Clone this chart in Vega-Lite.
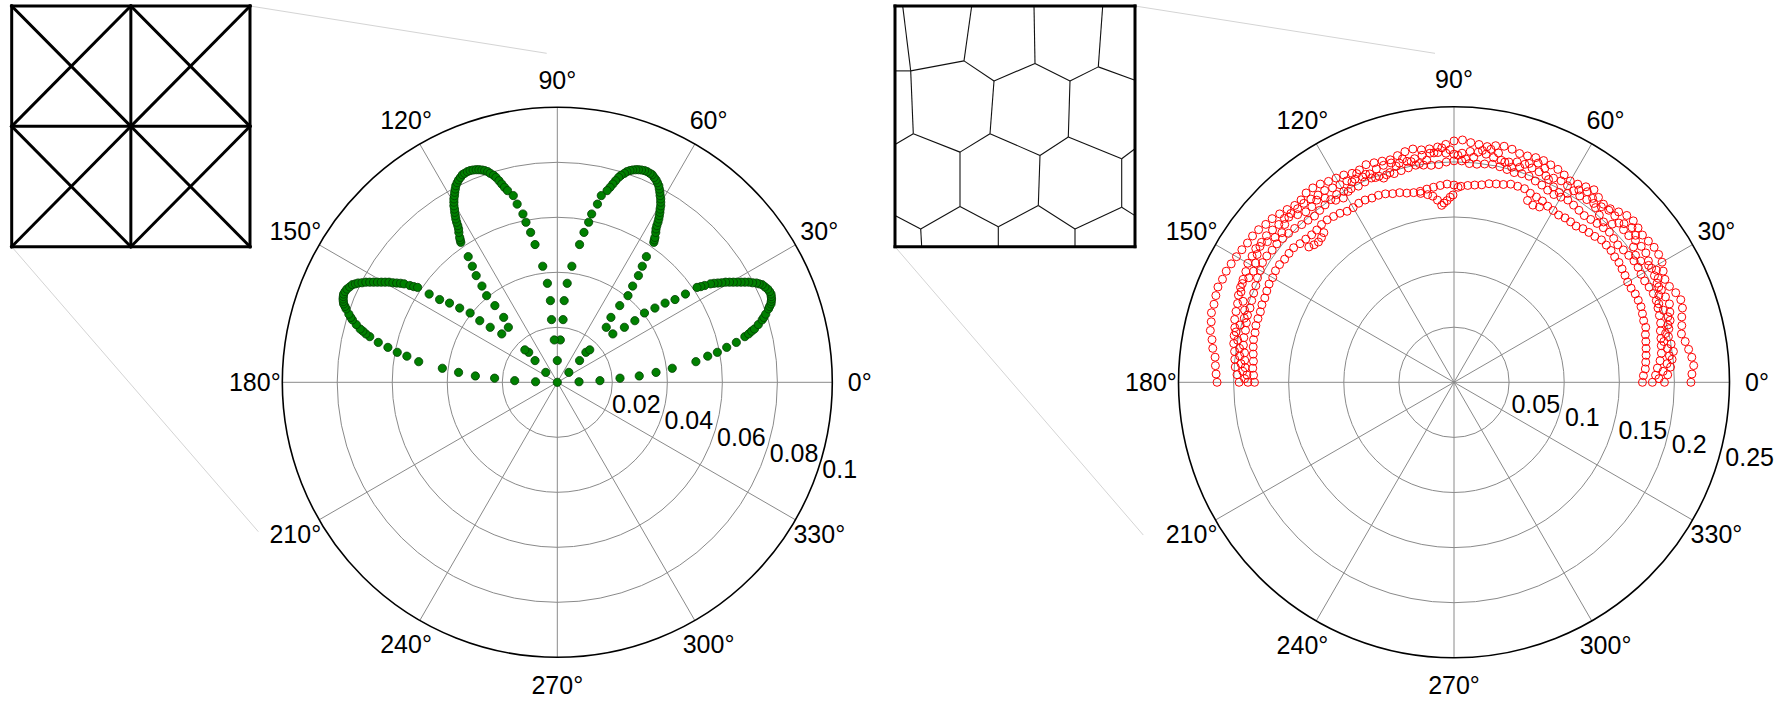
{
"$schema": "https://vega.github.io/schema/vega-lite/v6.json",
"width": 1784, "height": 701, "padding": 0, "autosize": {"type": "none"},
"background": "#ffffff",
"config": {"view": {"stroke": null}},
"datasets": {
"angles": [{"a":0,"t":"0°"},{"a":30,"t":"30°"},{"a":60,"t":"60°"},{"a":90,"t":"90°"},{"a":120,"t":"120°"},{"a":150,"t":"150°"},{"a":180,"t":"180°"},{"a":210,"t":"210°"},{"a":240,"t":"240°"},{"a":270,"t":"270°"},{"a":300,"t":"300°"},{"a":330,"t":"330°"}],
"ringsL": [{"v":0.02,"t":"0.02"},{"v":0.04,"t":"0.04"},{"v":0.06,"t":"0.06"},{"v":0.08,"t":"0.08"},{"v":0.1,"t":"0.1"}],
"ringsR": [{"v":0.05,"t":"0.05"},{"v":0.1,"t":"0.1"},{"v":0.15,"t":"0.15"},{"v":0.2,"t":"0.2"},{"v":0.25,"t":"0.25"}],
"spokesL": [{"x":-0.1,"y":0,"x2":0.1,"y2":0},{"x":-0.0866,"y":-0.05,"x2":0.0866,"y2":0.05},{"x":-0.05,"y":-0.0866,"x2":0.05,"y2":0.0866},{"x":0,"y":-0.1,"x2":0,"y2":0.1},{"x":0.05,"y":-0.0866,"x2":-0.05,"y2":0.0866},{"x":0.0866,"y":-0.05,"x2":-0.0866,"y2":0.05}],
"spokesR": [{"x":-0.25,"y":0,"x2":0.25,"y2":0},{"x":-0.2165,"y":-0.125,"x2":0.2165,"y2":0.125},{"x":-0.125,"y":-0.2165,"x2":0.125,"y2":0.2165},{"x":0,"y":-0.25,"x2":0,"y2":0.25},{"x":0.125,"y":-0.2165,"x2":-0.125,"y2":0.2165},{"x":0.2165,"y":-0.125,"x2":-0.2165,"y2":0.125}],
"meshL": [{"x":0,"y":0,"x2":0,"y2":2},{"x":1,"y":0,"x2":1,"y2":2},{"x":2,"y":0,"x2":2,"y2":2},{"x":0,"y":0,"x2":2,"y2":0},{"x":0,"y":1,"x2":2,"y2":1},{"x":0,"y":2,"x2":2,"y2":2},{"x":0,"y":0,"x2":1,"y2":1},{"x":0,"y":1,"x2":1,"y2":0},{"x":1,"y":0,"x2":2,"y2":1},{"x":1,"y":1,"x2":2,"y2":0},{"x":0,"y":1,"x2":1,"y2":2},{"x":0,"y":2,"x2":1,"y2":1},{"x":1,"y":1,"x2":2,"y2":2},{"x":1,"y":2,"x2":2,"y2":1}],
"linksL": [{"x":2,"y":2,"x2":4.49,"y2":1.607},{"x":0,"y":0,"x2":2.07,"y2":-2.368}],
"meshR": [{"x":7.7,"y":0,"x2":15.7,"y2":64.7},{"x":0,"y":64.7,"x2":15.7,"y2":64.7},{"x":15.7,"y":64.7,"x2":69,"y2":54.7},{"x":76.7,"y":0,"x2":69,"y2":54.7},{"x":69,"y":54.7,"x2":99,"y2":74.7},{"x":139,"y":0,"x2":140,"y2":57.3},{"x":99,"y":74.7,"x2":140,"y2":57.3},{"x":140,"y":57.3,"x2":175,"y2":74.7},{"x":207.7,"y":0,"x2":203.3,"y2":60.7},{"x":175,"y":74.7,"x2":203.3,"y2":60.7},{"x":203.3,"y":60.7,"x2":240,"y2":74},{"x":99,"y":74.7,"x2":95,"y2":127.3},{"x":175,"y":74.7,"x2":173.3,"y2":130.7},{"x":15.7,"y":64.7,"x2":18.3,"y2":127.3},{"x":0,"y":138,"x2":18.3,"y2":127.3},{"x":18.3,"y":127.3,"x2":65,"y2":145.7},{"x":95,"y":127.3,"x2":65,"y2":145.7},{"x":95,"y":127.3,"x2":145,"y2":149},{"x":173.3,"y":130.7,"x2":145,"y2":149},{"x":173.3,"y":130.7,"x2":226.7,"y2":152.3},{"x":226.7,"y":152.3,"x2":240,"y2":142.3},{"x":65,"y":145.7,"x2":65,"y2":200},{"x":145,"y":149,"x2":143.3,"y2":199},{"x":226.7,"y":152.3,"x2":226.7,"y2":200.7},{"x":0,"y":209,"x2":25.7,"y2":222.3},{"x":65,"y":200,"x2":25.7,"y2":222.3},{"x":65,"y":200,"x2":103.3,"y2":220},{"x":143.3,"y":199,"x2":103.3,"y2":220},{"x":143.3,"y":199,"x2":180,"y2":222.3},{"x":226.7,"y":200.7,"x2":180,"y2":222.3},{"x":226.7,"y":200.7,"x2":240,"y2":209},{"x":25.7,"y":222.3,"x2":26.7,"y2":240},{"x":103.3,"y":220,"x2":103.3,"y2":240},{"x":180,"y":222.3,"x2":180,"y2":240}],
"frameR": [{"x":0,"y":0,"x2":240,"y2":0},{"x":240,"y":0,"x2":240,"y2":240},{"x":0,"y":240,"x2":240,"y2":240},{"x":0,"y":0,"x2":0,"y2":240}],
"linksR": [{"x":240,"y":0,"x2":540,"y2":47.2},{"x":0,"y":240,"x2":248.3,"y2":527.5}],
"green": [
{"x":0,"y":0},{"x":0,"y":0.0079},
{"x":0.0042,"y":0.0036},{"x":0.0081,"y":0.0079},{"x":0.0104,"y":0.0109},{"x":0.0118,"y":0.0118},{"x":0.0011,"y":0.0154},
{"x":0.0079,"y":0.0002},{"x":0.0155,"y":0.0006},{"x":0.0228,"y":0.0015},{"x":0.0298,"y":0.0023},{"x":0.0359,"y":0.0036},{"x":0.0418,"y":0.0051},
{"x":0.0504,"y":0.0075},{"x":0.0547,"y":0.0095},{"x":0.0582,"y":0.0109},{"x":0.0616,"y":0.0127},{"x":0.0651,"y":0.0145},{"x":0.0682,"y":0.0166},{"x":0.0696,"y":0.0176},{"x":0.0707,"y":0.0186},{"x":0.0717,"y":0.0194},{"x":0.0731,"y":0.021},{"x":0.0745,"y":0.0227},{"x":0.0751,"y":0.0236},{"x":0.0758,"y":0.0248},{"x":0.0768,"y":0.0267},{"x":0.0772,"y":0.0276},{"x":0.0777,"y":0.0285},{"x":0.0778,"y":0.0294},{"x":0.0779,"y":0.0303},{"x":0.0778,"y":0.0312},{"x":0.0777,"y":0.0321},{"x":0.0772,"y":0.033},{"x":0.0765,"y":0.0339},{"x":0.0755,"y":0.0347},{"x":0.0745,"y":0.0355},{"x":0.0734,"y":0.0358},{"x":0.0724,"y":0.0361},{"x":0.071,"y":0.0362},{"x":0.0696,"y":0.0364},{"x":0.0682,"y":0.0364},{"x":0.0668,"y":0.0364},{"x":0.0654,"y":0.0364},{"x":0.064,"y":0.0364},{"x":0.0626,"y":0.0364},{"x":0.0612,"y":0.0364},{"x":0.0598,"y":0.0362},{"x":0.0584,"y":0.0361},{"x":0.057,"y":0.036},{"x":0.0557,"y":0.0358},{"x":0.0536,"y":0.0352},{"x":0.0522,"y":0.0348},{"x":0.0508,"y":0.0345},
{"x":0.0466,"y":0.0321},{"x":0.0428,"y":0.0301},{"x":0.0392,"y":0.0288},{"x":0.0355,"y":0.027},{"x":0.0317,"y":0.0252},{"x":0.0282,"y":0.0224},{"x":0.0244,"y":0.02},{"x":0.0202,"y":0.0176},
{"x":0.0178,"y":0.02},{"x":0.0195,"y":0.0236},{"x":0.0227,"y":0.0279},{"x":0.0257,"y":0.0315},{"x":0.0274,"y":0.035},{"x":0.0295,"y":0.0388},{"x":0.0309,"y":0.0422},{"x":0.0324,"y":0.0457},
{"x":0.0351,"y":0.0509},{"x":0.0353,"y":0.0518},{"x":0.0355,"y":0.0527},{"x":0.0358,"y":0.0545},{"x":0.0359,"y":0.0558},{"x":0.0362,"y":0.057},{"x":0.0366,"y":0.0582},{"x":0.0369,"y":0.0594},{"x":0.0371,"y":0.0606},{"x":0.0373,"y":0.0618},{"x":0.0374,"y":0.063},{"x":0.0376,"y":0.0642},{"x":0.0376,"y":0.0655},{"x":0.0376,"y":0.0667},{"x":0.0374,"y":0.0679},{"x":0.0373,"y":0.0691},{"x":0.0371,"y":0.0703},{"x":0.0369,"y":0.0715},{"x":0.0364,"y":0.0726},{"x":0.0359,"y":0.0736},{"x":0.0352,"y":0.0745},{"x":0.0345,"y":0.0755},{"x":0.0337,"y":0.076},{"x":0.0327,"y":0.0766},{"x":0.0317,"y":0.077},{"x":0.0306,"y":0.0772},{"x":0.0295,"y":0.0773},{"x":0.0285,"y":0.0773},{"x":0.0274,"y":0.0772},{"x":0.0264,"y":0.077},{"x":0.0253,"y":0.0766},{"x":0.0244,"y":0.076},{"x":0.0232,"y":0.0753},{"x":0.0223,"y":0.0745},{"x":0.0212,"y":0.0733},{"x":0.0202,"y":0.0721},{"x":0.0192,"y":0.0709},{"x":0.0181,"y":0.0697},{"x":0.016,"y":0.0679},
{"x":0.0146,"y":0.0648},{"x":0.0125,"y":0.0612},{"x":0.0114,"y":0.0582},{"x":0.0097,"y":0.0545},{"x":0.0081,"y":0.0501},{"x":0.0053,"y":0.0422},{"x":0.0036,"y":0.036},{"x":0.0025,"y":0.0297},{"x":0.0021,"y":0.0228},
{"x":-0.0042,"y":0.0036},{"x":-0.0081,"y":0.0079},{"x":-0.0104,"y":0.0109},{"x":-0.0118,"y":0.0118},{"x":-0.0011,"y":0.0154},
{"x":-0.0079,"y":0.0002},{"x":-0.0155,"y":0.0006},{"x":-0.0228,"y":0.0015},{"x":-0.0298,"y":0.0023},{"x":-0.0359,"y":0.0036},{"x":-0.0418,"y":0.0051},
{"x":-0.0504,"y":0.0075},{"x":-0.0547,"y":0.0095},{"x":-0.0582,"y":0.0109},{"x":-0.0616,"y":0.0127},{"x":-0.0651,"y":0.0145},{"x":-0.0682,"y":0.0166},{"x":-0.0696,"y":0.0176},{"x":-0.0707,"y":0.0186},{"x":-0.0717,"y":0.0194},{"x":-0.0731,"y":0.021},{"x":-0.0745,"y":0.0227},{"x":-0.0751,"y":0.0236},{"x":-0.0758,"y":0.0248},{"x":-0.0768,"y":0.0267},{"x":-0.0772,"y":0.0276},{"x":-0.0777,"y":0.0285},{"x":-0.0778,"y":0.0294},{"x":-0.0779,"y":0.0303},{"x":-0.0778,"y":0.0312},{"x":-0.0777,"y":0.0321},{"x":-0.0772,"y":0.033},{"x":-0.0765,"y":0.0339},{"x":-0.0755,"y":0.0347},{"x":-0.0745,"y":0.0355},{"x":-0.0734,"y":0.0358},{"x":-0.0724,"y":0.0361},{"x":-0.071,"y":0.0362},{"x":-0.0696,"y":0.0364},{"x":-0.0682,"y":0.0364},{"x":-0.0668,"y":0.0364},{"x":-0.0654,"y":0.0364},{"x":-0.064,"y":0.0364},{"x":-0.0626,"y":0.0364},{"x":-0.0612,"y":0.0364},{"x":-0.0598,"y":0.0362},{"x":-0.0584,"y":0.0361},{"x":-0.057,"y":0.036},{"x":-0.0557,"y":0.0358},{"x":-0.0536,"y":0.0352},{"x":-0.0522,"y":0.0348},{"x":-0.0508,"y":0.0345},
{"x":-0.0466,"y":0.0321},{"x":-0.0428,"y":0.0301},{"x":-0.0392,"y":0.0288},{"x":-0.0355,"y":0.027},{"x":-0.0317,"y":0.0252},{"x":-0.0282,"y":0.0224},{"x":-0.0244,"y":0.02},{"x":-0.0202,"y":0.0176},
{"x":-0.0178,"y":0.02},{"x":-0.0195,"y":0.0236},{"x":-0.0227,"y":0.0279},{"x":-0.0257,"y":0.0315},{"x":-0.0274,"y":0.035},{"x":-0.0295,"y":0.0388},{"x":-0.0309,"y":0.0422},{"x":-0.0324,"y":0.0457},
{"x":-0.0351,"y":0.0509},{"x":-0.0353,"y":0.0518},{"x":-0.0355,"y":0.0527},{"x":-0.0358,"y":0.0545},{"x":-0.0359,"y":0.0558},{"x":-0.0362,"y":0.057},{"x":-0.0366,"y":0.0582},{"x":-0.0369,"y":0.0594},{"x":-0.0371,"y":0.0606},{"x":-0.0373,"y":0.0618},{"x":-0.0374,"y":0.063},{"x":-0.0376,"y":0.0642},{"x":-0.0376,"y":0.0655},{"x":-0.0376,"y":0.0667},{"x":-0.0374,"y":0.0679},{"x":-0.0373,"y":0.0691},{"x":-0.0371,"y":0.0703},{"x":-0.0369,"y":0.0715},{"x":-0.0364,"y":0.0726},{"x":-0.0359,"y":0.0736},{"x":-0.0352,"y":0.0745},{"x":-0.0345,"y":0.0755},{"x":-0.0337,"y":0.076},{"x":-0.0327,"y":0.0766},{"x":-0.0317,"y":0.077},{"x":-0.0306,"y":0.0772},{"x":-0.0295,"y":0.0773},{"x":-0.0285,"y":0.0773},{"x":-0.0274,"y":0.0772},{"x":-0.0264,"y":0.077},{"x":-0.0253,"y":0.0766},{"x":-0.0244,"y":0.076},{"x":-0.0232,"y":0.0753},{"x":-0.0223,"y":0.0745},{"x":-0.0212,"y":0.0733},{"x":-0.0202,"y":0.0721},{"x":-0.0192,"y":0.0709},{"x":-0.0181,"y":0.0697},{"x":-0.016,"y":0.0679},
{"x":-0.0146,"y":0.0648},{"x":-0.0125,"y":0.0612},{"x":-0.0114,"y":0.0582},{"x":-0.0097,"y":0.0545},{"x":-0.0081,"y":0.0501},{"x":-0.0053,"y":0.0422},{"x":-0.0036,"y":0.036},{"x":-0.0025,"y":0.0297},{"x":-0.0021,"y":0.0228}
],
"red": [
{"x":0.215,"y":0},{"x":0.2159,"y":0.0075},{"x":0.2175,"y":0.0152},{"x":0.2158,"y":0.0227},{"x":0.2129,"y":0.0299},{"x":0.2098,"y":0.037},{"x":0.2064,"y":0.0439},{"x":0.2067,"y":0.0515},{"x":0.2067,"y":0.0593},{"x":0.2073,"y":0.0674},
{"x":0.2058,"y":0.0749},{"x":0.2012,"y":0.0813},{"x":0.1955,"y":0.087},{"x":0.1914,"y":0.0934},{"x":0.1898,"y":0.1009},{"x":0.1888,"y":0.109},{"x":0.1857,"y":0.116},{"x":0.1816,"y":0.1225},{"x":0.1764,"y":0.1281},{"x":0.171,"y":0.1336},
{"x":0.167,"y":0.1401},{"x":0.1627,"y":0.1465},{"x":0.1568,"y":0.1514},{"x":0.1494,"y":0.1546},{"x":0.1418,"y":0.1575},{"x":0.1356,"y":0.1616},{"x":0.1311,"y":0.1678},{"x":0.127,"y":0.1747},{"x":0.1197,"y":0.1774},{"x":0.1123,"y":0.1798},
{"x":0.1055,"y":0.1827},{"x":0.1,"y":0.1881},{"x":0.0943,"y":0.1932},{"x":0.0878,"y":0.1973},{"x":0.0813,"y":0.2012},{"x":0.0742,"y":0.2039},{"x":0.0667,"y":0.2054},{"x":0.0595,"y":0.2076},{"x":0.0527,"y":0.2115},{"x":0.0455,"y":0.2142},
{"x":0.0378,"y":0.2147},{"x":0.0301,"y":0.2139},{"x":0.0227,"y":0.2158},{"x":0.0152,"y":0.2175},{"x":0.0077,"y":0.2199},{"x":0,"y":0.219},{"x":-0.0075,"y":0.2159},{"x":-0.0149,"y":0.2135},{"x":-0.0223,"y":0.2118},{"x":-0.0296,"y":0.2109},
{"x":-0.0373,"y":0.2117},{"x":-0.0445,"y":0.2093},{"x":-0.0513,"y":0.2057},{"x":-0.0579,"y":0.2019},{"x":-0.0652,"y":0.2007},{"x":-0.0725,"y":0.1992},{"x":-0.0798,"y":0.1975},{"x":-0.0858,"y":0.1927},{"x":-0.0925,"y":0.1896},{"x":-0.1,"y":0.1881},
{"x":-0.107,"y":0.1853},{"x":-0.1139,"y":0.1823},{"x":-0.1213,"y":0.1799},{"x":-0.1281,"y":0.1764},{"x":-0.1342,"y":0.1718},{"x":-0.1388,"y":0.1655},{"x":-0.1445,"y":0.1605},{"x":-0.1514,"y":0.1568},{"x":-0.1582,"y":0.1528},{"x":-0.165,"y":0.1485},
{"x":-0.1708,"y":0.1433},{"x":-0.1773,"y":0.1385},{"x":-0.1828,"y":0.1328},{"x":-0.1874,"y":0.1264},{"x":-0.1925,"y":0.1203},{"x":-0.1974,"y":0.114},{"x":-0.2022,"y":0.1075},{"x":-0.2067,"y":0.1008},{"x":-0.2101,"y":0.0935},{"x":-0.2142,"y":0.0865},
{"x":-0.2161,"y":0.0787},{"x":-0.2178,"y":0.0708},{"x":-0.2201,"y":0.0631},{"x":-0.2203,"y":0.0549},{"x":-0.2211,"y":0.047},{"x":-0.2196,"y":0.0387},{"x":-0.2189,"y":0.0308},{"x":-0.2168,"y":0.0228},{"x":-0.2165,"y":0.0151},{"x":-0.2159,"y":0.0075},
{"x":-0.215,"y":0},
{"x":0.191,"y":0},{"x":0.1939,"y":0.0068},{"x":0.1965,"y":0.0138},{"x":0.1979,"y":0.0208},{"x":0.1991,"y":0.028},{"x":0.197,"y":0.0347},{"x":0.1946,"y":0.0414},{"x":0.195,"y":0.0486},{"x":0.1961,"y":0.0562},{"x":0.1959,"y":0.0637},
{"x":0.1955,"y":0.0711},{"x":0.1919,"y":0.0775},{"x":0.1882,"y":0.0838},{"x":0.1843,"y":0.0899},{"x":0.1819,"y":0.0967},{"x":0.1793,"y":0.1035},{"x":0.1764,"y":0.1102},{"x":0.1741,"y":0.1174},{"x":0.1699,"y":0.1234},{"x":0.1647,"y":0.1287},
{"x":0.1586,"y":0.1331},{"x":0.1538,"y":0.1385},{"x":0.1496,"y":0.1445},{"x":0.1459,"y":0.1511},{"x":0.1405,"y":0.1561},{"x":0.1337,"y":0.1593},{"x":0.1268,"y":0.1623},{"x":0.1205,"y":0.1658},{"x":0.1141,"y":0.1691},{"x":0.1086,"y":0.1738},
{"x":0.103,"y":0.1784},{"x":0.0972,"y":0.1828},{"x":0.0903,"y":0.1852},{"x":0.0834,"y":0.1873},{"x":0.0772,"y":0.191},{"x":0.0708,"y":0.1945},{"x":0.0643,"y":0.1978},{"x":0.0573,"y":0.2},{"x":0.0498,"y":0.1999},{"x":0.0428,"y":0.2015},
{"x":0.0359,"y":0.2039},{"x":0.0291,"y":0.207},{"x":0.0219,"y":0.2088},{"x":0.0147,"y":0.2095},{"x":0.0073,"y":0.2079},{"x":0,"y":0.207},{"x":-0.0073,"y":0.2079},{"x":-0.0146,"y":0.2085},{"x":-0.0218,"y":0.2079},{"x":-0.029,"y":0.206},
{"x":-0.0358,"y":0.2029},{"x":-0.0426,"y":0.2005},{"x":-0.0496,"y":0.1989},{"x":-0.057,"y":0.199},{"x":-0.064,"y":0.1969},{"x":-0.0705,"y":0.1936},{"x":-0.0764,"y":0.1891},{"x":-0.083,"y":0.1864},{"x":-0.0899,"y":0.1843},{"x":-0.0972,"y":0.1828},
{"x":-0.1035,"y":0.1793},{"x":-0.1102,"y":0.1764},{"x":-0.1174,"y":0.1741},{"x":-0.1234,"y":0.1699},{"x":-0.1299,"y":0.1663},{"x":-0.1363,"y":0.1624},{"x":-0.1419,"y":0.1575},{"x":-0.148,"y":0.1532},{"x":-0.1539,"y":0.1487},{"x":-0.159,"y":0.1432},
{"x":-0.1647,"y":0.1382},{"x":-0.1702,"y":0.133},{"x":-0.1747,"y":0.127},{"x":-0.1799,"y":0.1213},{"x":-0.1832,"y":0.1145},{"x":-0.1871,"y":0.108},{"x":-0.1889,"y":0.1005},{"x":-0.1914,"y":0.0934},{"x":-0.1937,"y":0.0862},{"x":-0.1956,"y":0.079},
{"x":-0.1964,"y":0.0715},{"x":-0.1978,"y":0.0643},{"x":-0.199,"y":0.057},{"x":-0.1989,"y":0.0496},{"x":-0.1995,"y":0.0424},{"x":-0.1999,"y":0.0352},{"x":-0.1991,"y":0.028},{"x":-0.1989,"y":0.0209},{"x":-0.1985,"y":0.0139},{"x":-0.1969,"y":0.0069},
{"x":-0.195,"y":0},
{"x":0.18,"y":0},{"x":0.1829,"y":0.0064},{"x":0.1846,"y":0.0129},{"x":0.187,"y":0.0196},{"x":0.1882,"y":0.0264},{"x":0.1881,"y":0.0332},{"x":0.1878,"y":0.0399},{"x":0.1873,"y":0.0467},{"x":0.1875,"y":0.0537},{"x":0.1864,"y":0.0606},
{"x":0.1851,"y":0.0674},{"x":0.1836,"y":0.0742},{"x":0.1809,"y":0.0805},{"x":0.1771,"y":0.0864},{"x":0.173,"y":0.092},{"x":0.1697,"y":0.098},{"x":0.1671,"y":0.1044},{"x":0.1633,"y":0.1102},{"x":0.1586,"y":0.1152},{"x":0.1537,"y":0.1201},
{"x":0.1486,"y":0.1247},{"x":0.1449,"y":0.1305},{"x":0.141,"y":0.1362},{"x":0.1355,"y":0.1403},{"x":0.1298,"y":0.1442},{"x":0.1241,"y":0.1478},{"x":0.1182,"y":0.1513},{"x":0.1134,"y":0.1561},{"x":0.1085,"y":0.1608},{"x":0.1033,"y":0.1654},
{"x":0.097,"y":0.168},{"x":0.0906,"y":0.1704},{"x":0.085,"y":0.1744},{"x":0.0797,"y":0.179},{"x":0.0738,"y":0.1827},{"x":0.0681,"y":0.187},{"x":0.0615,"y":0.1893},{"x":0.0546,"y":0.1903},{"x":0.0481,"y":0.1931},{"x":0.0416,"y":0.1956},
{"x":0.0349,"y":0.1979},{"x":0.0278,"y":0.1981},{"x":0.0208,"y":0.1979},{"x":0.0139,"y":0.1985},{"x":0.007,"y":0.2009},{"x":0,"y":0.201},{"x":-0.007,"y":0.1999},{"x":-0.0138,"y":0.1975},{"x":-0.0207,"y":0.1969},{"x":-0.0277,"y":0.1971},
{"x":-0.0347,"y":0.197},{"x":-0.0414,"y":0.1946},{"x":-0.0479,"y":0.1921},{"x":-0.0543,"y":0.1894},{"x":-0.0612,"y":0.1883},{"x":-0.0681,"y":0.187},{"x":-0.0749,"y":0.1854},{"x":-0.0809,"y":0.1818},{"x":-0.0868,"y":0.178},{"x":-0.0934,"y":0.1757},
{"x":-0.1,"y":0.1732},{"x":-0.1065,"y":0.1704},{"x":-0.1118,"y":0.1658},{"x":-0.117,"y":0.161},{"x":-0.1219,"y":0.156},{"x":-0.1266,"y":0.1509},{"x":-0.1325,"y":0.1471},{"x":-0.1382,"y":0.1431},{"x":-0.1446,"y":0.1396},{"x":-0.1501,"y":0.1352},
{"x":-0.1555,"y":0.1305},{"x":-0.1608,"y":0.1256},{"x":-0.165,"y":0.1199},{"x":-0.1699,"y":0.1146},{"x":-0.1738,"y":0.1086},{"x":-0.1758,"y":0.1015},{"x":-0.1783,"y":0.0948},{"x":-0.1798,"y":0.0877},{"x":-0.1818,"y":0.0809},{"x":-0.1836,"y":0.0742},
{"x":-0.1851,"y":0.0674},{"x":-0.1874,"y":0.0609},{"x":-0.1884,"y":0.054},{"x":-0.1892,"y":0.0472},{"x":-0.1907,"y":0.0405},{"x":-0.1911,"y":0.0337},{"x":-0.1901,"y":0.0267},{"x":-0.1899,"y":0.02},{"x":-0.1895,"y":0.0133},{"x":-0.1879,"y":0.0066},
{"x":-0.187,"y":0},
{"x":0.171,"y":0},{"x":0.1719,"y":0.006},{"x":0.1736,"y":0.0121},{"x":0.174,"y":0.0183},{"x":0.1743,"y":0.0245},{"x":0.1743,"y":0.0307},{"x":0.1741,"y":0.037},{"x":0.1737,"y":0.0433},{"x":0.174,"y":0.0499},{"x":0.1721,"y":0.0559},
{"x":0.171,"y":0.0622},{"x":0.1697,"y":0.0686},{"x":0.1672,"y":0.0744},{"x":0.1645,"y":0.0802},{"x":0.1607,"y":0.0854},{"x":0.1576,"y":0.091},{"x":0.1552,"y":0.097},{"x":0.1525,"y":0.1029},{"x":0.1497,"y":0.1087},{"x":0.1458,"y":0.1139},
{"x":0.1425,"y":0.1196},{"x":0.1382,"y":0.1245},{"x":0.1338,"y":0.1292},{"x":0.1278,"y":0.1324},{"x":0.1224,"y":0.136},{"x":0.117,"y":0.1394},{"x":0.1108,"y":0.1418},{"x":0.1058,"y":0.1456},{"x":0.1007,"y":0.1492},{"x":0.0949,"y":0.1518},
{"x":0.09,"y":0.1559},{"x":0.085,"y":0.1598},{"x":0.0802,"y":0.1645},{"x":0.0748,"y":0.1681},{"x":0.0693,"y":0.1715},{"x":0.064,"y":0.1757},{"x":0.0578,"y":0.1779},{"x":0.0515,"y":0.1798},{"x":0.0448,"y":0.1795},{"x":0.0383,"y":0.18},
{"x":0.0318,"y":0.1802},{"x":0.0252,"y":0.1792},{"x":0.0188,"y":0.179},{"x":0.0125,"y":0.1786},{"x":0.0062,"y":0.1779},{"x":0,"y":0.179},{"x":-0.0063,"y":0.1799},{"x":-0.0125,"y":0.1786},{"x":-0.0186,"y":0.177},{"x":-0.0246,"y":0.1753},
{"x":-0.0306,"y":0.1733},{"x":-0.0366,"y":0.1721},{"x":-0.0428,"y":0.1717},{"x":-0.0493,"y":0.1721},{"x":-0.0556,"y":0.1712},{"x":-0.0622,"y":0.171},{"x":-0.0686,"y":0.1697},{"x":-0.0744,"y":0.1672},{"x":-0.0807,"y":0.1654},{"x":-0.0864,"y":0.1625},
{"x":-0.0915,"y":0.1585},{"x":-0.097,"y":0.1552},{"x":-0.1035,"y":0.1534},{"x":-0.1093,"y":0.1505},{"x":-0.1151,"y":0.1474},{"x":-0.1202,"y":0.1432},{"x":-0.1245,"y":0.1382},{"x":-0.1292,"y":0.1338},{"x":-0.1345,"y":0.1299},{"x":-0.1397,"y":0.1258},
{"x":-0.1455,"y":0.1221},{"x":-0.1497,"y":0.117},{"x":-0.1537,"y":0.1117},{"x":-0.1583,"y":0.1068},{"x":-0.162,"y":0.1012},{"x":-0.1645,"y":0.095},{"x":-0.1678,"y":0.0892},{"x":-0.1699,"y":0.0829},{"x":-0.1717,"y":0.0765},{"x":-0.1743,"y":0.0704},
{"x":-0.1757,"y":0.064},{"x":-0.1779,"y":0.0578},{"x":-0.1798,"y":0.0515},{"x":-0.1805,"y":0.045},{"x":-0.1819,"y":0.0387},{"x":-0.1822,"y":0.0321},{"x":-0.1822,"y":0.0256},{"x":-0.182,"y":0.0191},{"x":-0.1826,"y":0.0128},{"x":-0.1819,"y":0.0064},
{"x":-0.181,"y":0},
{"x":0.186,"y":0.0033},{"x":0.1897,"y":0.0099},{"x":0.1933,"y":0.0169},{"x":0.1955,"y":0.024},{"x":0.1936,"y":0.0307},{"x":0.1904,"y":0.037},{"x":0.192,"y":0.0443},{"x":0.1941,"y":0.052},{"x":0.1941,"y":0.0594},{"x":0.19,"y":0.0654},
{"x":0.1858,"y":0.0713},{"x":0.1859,"y":0.0789},{"x":0.1858,"y":0.0866},{"x":0.1853,"y":0.0944},{"x":0.1837,"y":0.1018},{"x":0.1766,"y":0.1061},{"x":0.1694,"y":0.11},{"x":0.1647,"y":0.1153},{"x":0.1629,"y":0.1228},{"x":0.1647,"y":0.1334},
{"x":0.1615,"y":0.1404},{"x":0.1543,"y":0.1439},{"x":0.1435,"y":0.1435},{"x":0.1357,"y":0.1455},{"x":0.1319,"y":0.1517},{"x":0.1284,"y":0.1585},{"x":0.1258,"y":0.1669},{"x":0.121,"y":0.1729},{"x":0.1133,"y":0.1745},{"x":0.103,"y":0.1714},
{"x":0.0955,"y":0.1723},{"x":0.0903,"y":0.1773},{"x":0.0858,"y":0.184},{"x":0.0824,"y":0.1942},{"x":0.0763,"y":0.1989},{"x":0.0684,"y":0.1986},{"x":0.0596,"y":0.1951},{"x":0.0523,"y":0.1951},{"x":0.0461,"y":0.1998},{"x":0.0404,"y":0.2081},
{"x":0.0335,"y":0.2114},{"x":0.0258,"y":0.2104},{"x":0.0179,"y":0.2042},{"x":0.0106,"y":0.2027},{"x":0.0036,"y":0.206},{"x":-0.0037,"y":0.211},{"x":-0.0111,"y":0.2127},{"x":-0.0182,"y":0.2082},{"x":-0.0247,"y":0.2015},{"x":-0.0314,"y":0.1985},
{"x":-0.0389,"y":0.2002},{"x":-0.0468,"y":0.2027},{"x":-0.0525,"y":0.1961},{"x":-0.0582,"y":0.1903},{"x":-0.0638,"y":0.1853},{"x":-0.0713,"y":0.1858},{"x":-0.0801,"y":0.1887},{"x":-0.0883,"y":0.1894},{"x":-0.0926,"y":0.1818},{"x":-0.096,"y":0.1732},
{"x":-0.1004,"y":0.1672},{"x":-0.1073,"y":0.1652},{"x":-0.117,"y":0.1671},{"x":-0.1246,"y":0.1653},{"x":-0.129,"y":0.1593},{"x":-0.1345,"y":0.1547},{"x":-0.1419,"y":0.1521},{"x":-0.1499,"y":0.1499},{"x":-0.1536,"y":0.1432},{"x":-0.1562,"y":0.1358},
{"x":-0.1624,"y":0.1315},{"x":-0.1693,"y":0.1276},{"x":-0.1761,"y":0.1233},{"x":-0.1786,"y":0.116},{"x":-0.18,"y":0.1082},{"x":-0.1819,"y":0.1008},{"x":-0.1862,"y":0.0949},{"x":-0.1921,"y":0.0896},{"x":-0.1933,"y":0.082},{"x":-0.1914,"y":0.0735},
{"x":-0.19,"y":0.0654},{"x":-0.1903,"y":0.0582},{"x":-0.1941,"y":0.052},{"x":-0.1978,"y":0.0457},{"x":-0.1963,"y":0.0382},{"x":-0.1946,"y":0.0308},{"x":-0.1945,"y":0.0239},{"x":-0.1933,"y":0.0169},{"x":-0.1917,"y":0.01},{"x":-0.19,"y":0.0033},
{"x":0.0037,"y":0.177},{"x":-0.0009,"y":0.17},{"x":-0.0035,"y":0.168},{"x":-0.0063,"y":0.1649},{"x":-0.0091,"y":0.1627},{"x":-0.0112,"y":0.1606},{"x":-0.015,"y":0.1653},{"x":-0.0192,"y":0.1689},{"x":-0.0239,"y":0.1703},{"x":-0.0302,"y":0.1714},
{"x":-0.1181,"y":0.1358},{"x":-0.1203,"y":0.1312},{"x":-0.123,"y":0.1273},{"x":-0.127,"y":0.1248},{"x":-0.1317,"y":0.1228},
{"x":0.0776,"y":0.1591},{"x":0.0716,"y":0.1608},{"x":0.0667,"y":0.165}
]
},
"layer": [
{
"layer": [
{"data": {"name": "linksL"}, "mark": {"type": "rule", "stroke": "#d4d4d4", "strokeWidth": 1},
 "encoding": {"x": {"field": "x", "type": "quantitative", "scale": {"domain": [0, 2], "range": [11.7, 250], "nice": false, "zero": false}, "axis": null},
  "y": {"field": "y", "type": "quantitative", "scale": {"domain": [0, 2], "range": [246.7, 6], "nice": false, "zero": false}, "axis": null},
  "x2": {"field": "x2"}, "y2": {"field": "y2"}}},
{"data": {"name": "meshL"}, "mark": {"type": "rule", "stroke": "#000000", "strokeWidth": 3, "strokeCap": "square"},
 "encoding": {"x": {"field": "x", "type": "quantitative", "scale": {"domain": [0, 2], "range": [11.7, 250], "nice": false, "zero": false}, "axis": null},
  "y": {"field": "y", "type": "quantitative", "scale": {"domain": [0, 2], "range": [246.7, 6], "nice": false, "zero": false}, "axis": null},
  "x2": {"field": "x2"}, "y2": {"field": "y2"}}}
]
},
{
"layer": [
{"data": {"name": "linksR"}, "mark": {"type": "rule", "stroke": "#d4d4d4", "strokeWidth": 1},
 "encoding": {"x": {"field": "x", "type": "quantitative", "scale": {"domain": [0, 240], "range": [895, 1135], "nice": false, "zero": false}, "axis": null},
  "y": {"field": "y", "type": "quantitative", "scale": {"domain": [0, 240], "range": [6, 246.7], "nice": false, "zero": false}, "axis": null},
  "x2": {"field": "x2"}, "y2": {"field": "y2"}}},
{"data": {"name": "meshR"}, "mark": {"type": "rule", "stroke": "#111111", "strokeWidth": 1.1},
 "encoding": {"x": {"field": "x", "type": "quantitative", "scale": {"domain": [0, 240], "range": [895, 1135], "nice": false, "zero": false}, "axis": null},
  "y": {"field": "y", "type": "quantitative", "scale": {"domain": [0, 240], "range": [6, 246.7], "nice": false, "zero": false}, "axis": null},
  "x2": {"field": "x2"}, "y2": {"field": "y2"}}},
{"data": {"name": "frameR"}, "mark": {"type": "rule", "stroke": "#000000", "strokeWidth": 3, "strokeCap": "square"},
 "encoding": {"x": {"field": "x", "type": "quantitative", "scale": {"domain": [0, 240], "range": [895, 1135], "nice": false, "zero": false}, "axis": null},
  "y": {"field": "y", "type": "quantitative", "scale": {"domain": [0, 240], "range": [6, 246.7], "nice": false, "zero": false}, "axis": null},
  "x2": {"field": "x2"}, "y2": {"field": "y2"}}}
]
},
{
"layer": [
{"data": {"name": "spokesL"}, "mark": {"type": "rule", "stroke": "#8a8a8a", "strokeWidth": 1},
 "encoding": {"x": {"field": "x", "type": "quantitative", "scale": {"domain": [-0.1, 0.1], "range": [282.3, 832.3], "nice": false, "zero": false}, "axis": null},
  "y": {"field": "y", "type": "quantitative", "scale": {"domain": [-0.1, 0.1], "range": [657.3, 107.3], "nice": false, "zero": false}, "axis": null},
  "x2": {"field": "x2"}, "y2": {"field": "y2"}}},
{"data": {"name": "ringsL"}, "transform": [{"filter": "datum.v < 0.1"}],
 "mark": {"type": "arc", "theta": 0, "theta2": 6.2832, "filled": false, "stroke": "#8a8a8a", "strokeWidth": 1},
 "encoding": {"x": {"datum": 0, "type": "quantitative", "scale": {"domain": [-0.1, 0.1], "range": [282.3, 832.3], "nice": false, "zero": false}, "axis": null},
  "y": {"datum": 0, "type": "quantitative", "scale": {"domain": [-0.1, 0.1], "range": [657.3, 107.3], "nice": false, "zero": false}, "axis": null},
  "radius": {"field": "v", "type": "quantitative", "stack": null, "scale": {"type": "linear", "domain": [0, 0.1], "range": [0, 275], "nice": false, "zero": true}}}},
{"data": {"name": "ringsL"}, "transform": [{"filter": "datum.v >= 0.1"}],
 "mark": {"type": "arc", "theta": 0, "theta2": 6.2832, "filled": false, "stroke": "#000000", "strokeWidth": 1.6},
 "encoding": {"x": {"datum": 0, "type": "quantitative", "scale": {"domain": [-0.1, 0.1], "range": [282.3, 832.3], "nice": false, "zero": false}, "axis": null},
  "y": {"datum": 0, "type": "quantitative", "scale": {"domain": [-0.1, 0.1], "range": [657.3, 107.3], "nice": false, "zero": false}, "axis": null},
  "radius": {"field": "v", "type": "quantitative", "stack": null, "scale": {"type": "linear", "domain": [0, 0.1], "range": [0, 275], "nice": false, "zero": true}}}},
{"data": {"name": "ringsL"},
 "mark": {"type": "text", "align": "left", "baseline": "top", "dx": 2, "dy": -5, "font": "Liberation Sans", "fontSize": 25, "color": "#000000"},
 "encoding": {"x": {"datum": 0, "type": "quantitative", "scale": {"domain": [-0.1, 0.1], "range": [282.3, 832.3], "nice": false, "zero": false}, "axis": null},
  "y": {"datum": 0, "type": "quantitative", "scale": {"domain": [-0.1, 0.1], "range": [657.3, 107.3], "nice": false, "zero": false}, "axis": null},
  "radius": {"field": "v", "type": "quantitative", "stack": null, "scale": {"type": "linear", "domain": [0, 0.1], "range": [0, 275], "nice": false, "zero": true}},
  "theta": {"datum": -17, "type": "quantitative", "scale": {"domain": [0, 360], "range": [1.5708, -4.7124]}},
  "text": {"field": "t"}}},
{"data": {"name": "angles"},
 "mark": {"type": "text", "align": "center", "baseline": "middle", "dy": 1, "font": "Liberation Sans", "fontSize": 25, "color": "#000000"},
 "encoding": {"x": {"datum": 0, "type": "quantitative", "scale": {"domain": [-0.1, 0.1], "range": [282.3, 832.3], "nice": false, "zero": false}, "axis": null},
  "y": {"datum": 0, "type": "quantitative", "scale": {"domain": [-0.1, 0.1], "range": [657.3, 107.3], "nice": false, "zero": false}, "axis": null},
  "radius": {"datum": 0.11, "type": "quantitative", "scale": {"type": "linear", "domain": [0, 0.1], "range": [0, 275], "nice": false, "zero": true}},
  "theta": {"field": "a", "type": "quantitative", "stack": null, "scale": {"domain": [0, 360], "range": [1.5708, -4.7124]}},
  "text": {"field": "t"}}},
{"data": {"name": "green"},
 "mark": {"type": "point", "shape": "circle", "filled": true, "fill": "#008000", "stroke": "#003d00", "strokeWidth": 0.8, "size": 68, "opacity": 1},
 "encoding": {"x": {"field": "x", "type": "quantitative", "scale": {"domain": [-0.1, 0.1], "range": [282.3, 832.3], "nice": false, "zero": false}, "axis": null},
  "y": {"field": "y", "type": "quantitative", "scale": {"domain": [-0.1, 0.1], "range": [657.3, 107.3], "nice": false, "zero": false}, "axis": null}}}
]
},
{
"layer": [
{"data": {"name": "spokesR"}, "mark": {"type": "rule", "stroke": "#8a8a8a", "strokeWidth": 1},
 "encoding": {"x": {"field": "x", "type": "quantitative", "scale": {"domain": [-0.25, 0.25], "range": [1178.5, 1729.5], "nice": false, "zero": false}, "axis": null},
  "y": {"field": "y", "type": "quantitative", "scale": {"domain": [-0.25, 0.25], "range": [657.8, 106.8], "nice": false, "zero": false}, "axis": null},
  "x2": {"field": "x2"}, "y2": {"field": "y2"}}},
{"data": {"name": "ringsR"}, "transform": [{"filter": "datum.v < 0.25"}],
 "mark": {"type": "arc", "theta": 0, "theta2": 6.2832, "filled": false, "stroke": "#8a8a8a", "strokeWidth": 1},
 "encoding": {"x": {"datum": 0, "type": "quantitative", "scale": {"domain": [-0.25, 0.25], "range": [1178.5, 1729.5], "nice": false, "zero": false}, "axis": null},
  "y": {"datum": 0, "type": "quantitative", "scale": {"domain": [-0.25, 0.25], "range": [657.8, 106.8], "nice": false, "zero": false}, "axis": null},
  "radius": {"field": "v", "type": "quantitative", "stack": null, "scale": {"type": "linear", "domain": [0, 0.25], "range": [0, 275.5], "nice": false, "zero": true}}}},
{"data": {"name": "ringsR"}, "transform": [{"filter": "datum.v >= 0.25"}],
 "mark": {"type": "arc", "theta": 0, "theta2": 6.2832, "filled": false, "stroke": "#000000", "strokeWidth": 1.6},
 "encoding": {"x": {"datum": 0, "type": "quantitative", "scale": {"domain": [-0.25, 0.25], "range": [1178.5, 1729.5], "nice": false, "zero": false}, "axis": null},
  "y": {"datum": 0, "type": "quantitative", "scale": {"domain": [-0.25, 0.25], "range": [657.8, 106.8], "nice": false, "zero": false}, "axis": null},
  "radius": {"field": "v", "type": "quantitative", "stack": null, "scale": {"type": "linear", "domain": [0, 0.25], "range": [0, 275.5], "nice": false, "zero": true}}}},
{"data": {"name": "ringsR"},
 "mark": {"type": "text", "align": "left", "baseline": "top", "dx": 4, "dy": -3, "font": "Liberation Sans", "fontSize": 25, "color": "#000000"},
 "encoding": {"x": {"datum": 0, "type": "quantitative", "scale": {"domain": [-0.25, 0.25], "range": [1178.5, 1729.5], "nice": false, "zero": false}, "axis": null},
  "y": {"datum": 0, "type": "quantitative", "scale": {"domain": [-0.25, 0.25], "range": [657.8, 106.8], "nice": false, "zero": false}, "axis": null},
  "radius": {"field": "v", "type": "quantitative", "stack": null, "scale": {"type": "linear", "domain": [0, 0.25], "range": [0, 275.5], "nice": false, "zero": true}},
  "theta": {"datum": -14, "type": "quantitative", "scale": {"domain": [0, 360], "range": [1.5708, -4.7124]}},
  "text": {"field": "t"}}},
{"data": {"name": "angles"},
 "mark": {"type": "text", "align": "center", "baseline": "middle", "dy": 1, "font": "Liberation Sans", "fontSize": 25, "color": "#000000"},
 "encoding": {"x": {"datum": 0, "type": "quantitative", "scale": {"domain": [-0.25, 0.25], "range": [1178.5, 1729.5], "nice": false, "zero": false}, "axis": null},
  "y": {"datum": 0, "type": "quantitative", "scale": {"domain": [-0.25, 0.25], "range": [657.8, 106.8], "nice": false, "zero": false}, "axis": null},
  "radius": {"datum": 0.275, "type": "quantitative", "scale": {"type": "linear", "domain": [0, 0.25], "range": [0, 275.5], "nice": false, "zero": true}},
  "theta": {"field": "a", "type": "quantitative", "stack": null, "scale": {"domain": [0, 360], "range": [1.5708, -4.7124]}},
  "text": {"field": "t"}}},
{"data": {"name": "red"},
 "mark": {"type": "point", "shape": "circle", "filled": false, "stroke": "#ff0000", "strokeWidth": 1, "size": 64, "opacity": 1},
 "encoding": {"x": {"field": "x", "type": "quantitative", "scale": {"domain": [-0.25, 0.25], "range": [1178.5, 1729.5], "nice": false, "zero": false}, "axis": null},
  "y": {"field": "y", "type": "quantitative", "scale": {"domain": [-0.25, 0.25], "range": [657.8, 106.8], "nice": false, "zero": false}, "axis": null}}}
]
}
],
"resolve": {"scale": {"x": "independent", "y": "independent", "theta": "independent", "radius": "independent"}}
}
